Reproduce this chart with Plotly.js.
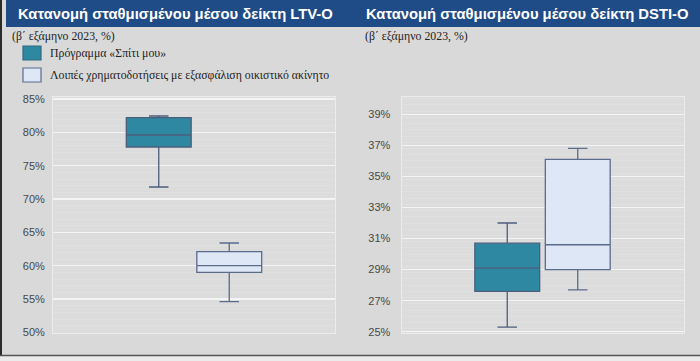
<!DOCTYPE html>
<html>
<head>
<meta charset="utf-8">
<script src="https://cdn.plot.ly/plotly-3.0.1.min.js"></script>
<style>html,body{margin:0;padding:0;background:#d9d9d9;}#chart{width:700px;height:361px;}</style>
</head>
<body>
<div id="chart"></div>
<script>
// ---- Data ----
const panelTitles = ['Κατανομή σταθμισμένου μέσου δείκτη LTV-O', 'Κατανομή σταθμισμένου μέσου δείκτη DSTI-O'];
const panelSubtitle = '(β΄ εξάμηνο 2023, %)';
const seriesNames = ['Πρόγραμμα «Σπίτι μου»', 'Λοιπές χρηματοδοτήσεις με εξασφάλιση οικιστικό ακίνητο'];
const seriesPositions = [1, 2];

// LTV-O distribution (%)
const ltvMin    = [71.8, 54.6];
const ltvQ1     = [77.8, 59.0];
const ltvMedian = [79.6, 60.0];
const ltvQ3     = [82.2, 62.1];
const ltvMax    = [82.45, 63.4];

// DSTI-O distribution (%)
const dstiMin    = [25.3, 27.7];
const dstiQ1     = [27.6, 29.0];
const dstiMedian = [29.1, 30.6];
const dstiQ3     = [30.7, 36.1];
const dstiMax    = [32.0, 36.8];

const ltvTicks  = [50, 55, 60, 65, 70, 75, 80, 85];
const dstiTicks = [25, 27, 29, 31, 33, 35, 37, 39];
const ltvTickText  = ltvTicks.map(v => v + '%');
const dstiTickText = dstiTicks.map(v => v + '%');

// ---- Styling ----
const W = 700, H = 361;
const px = v => v / W;
const py = v => 1 - v / H;
const fills = ['#2e88a1', '#dde7f5'];
const edges = ['#4d5d7c', '#5b6b8c'];

const traces = [];
seriesNames.forEach((name, i) => {
  traces.push({
    type: 'box', name: name, x: [seriesPositions[i]],
    q1: [ltvQ1[i]], median: [ltvMedian[i]], q3: [ltvQ3[i]],
    lowerfence: [ltvMin[i]], upperfence: [ltvMax[i]],
    width: 0.92, whiskerwidth: 0.3,
    fillcolor: fills[i], line: {color: edges[i], width: 1.3},
    xaxis: 'x', yaxis: 'y', showlegend: false, hoverinfo: 'skip'
  });
  traces.push({
    type: 'box', name: name, x: [seriesPositions[i]],
    q1: [dstiQ1[i]], median: [dstiMedian[i]], q3: [dstiQ3[i]],
    lowerfence: [dstiMin[i]], upperfence: [dstiMax[i]],
    width: 0.92, whiskerwidth: 0.3,
    fillcolor: fills[i], line: {color: edges[i], width: 1.3},
    xaxis: 'x2', yaxis: 'y2', showlegend: false, hoverinfo: 'skip'
  });
});

const tickFont = {family: 'Liberation Sans, Arial, sans-serif', size: 11, color: '#484848'};
const yDomain = [py(333), py(97)];
const frame = {showline: true, mirror: true, linecolor: '#ececec', linewidth: 1};
const titleFont = {family: 'Liberation Sans, Arial, sans-serif', size: 14.8, color: '#ffffff'};
const serifFont = {family: 'Liberation Serif, Times New Roman, serif', size: 11.8, color: '#222222'};

const shapes = [
  // header bar
  {type: 'rect', xref: 'paper', yref: 'paper', x0: px(6), x1: 1, y0: py(27), y1: 1, fillcolor: '#1f4b86', line: {width: 0}, layer: 'below'},
  // left dark edge
  {type: 'rect', xref: 'paper', yref: 'paper', x0: 0, x1: px(2), y0: 0, y1: 1, fillcolor: '#2b2b2b', line: {width: 0}},
  // bottom border
  {type: 'rect', xref: 'paper', yref: 'paper', x0: 0, x1: 1, y0: 0, y1: py(356), fillcolor: '#ebebeb', line: {width: 0}},
  {type: 'line', xref: 'paper', yref: 'paper', x0: 0, x1: 1, y0: py(355.5), y1: py(355.5), line: {color: '#555555', width: 1.5}},
];
const annotations = [
  {text: '<b>' + panelTitles[0] + '</b>', x: px(15.5), y: py(14), xref: 'paper', yref: 'paper', xanchor: 'left', yanchor: 'middle', showarrow: false, font: titleFont},
  {text: '<b>' + panelTitles[1] + '</b>', x: px(364), y: py(14), xref: 'paper', yref: 'paper', xanchor: 'left', yanchor: 'middle', showarrow: false, font: titleFont},
  {text: panelSubtitle, x: px(10), y: py(36), xref: 'paper', yref: 'paper', xanchor: 'left', yanchor: 'middle', showarrow: false, font: serifFont},
  {text: panelSubtitle, x: px(363), y: py(36), xref: 'paper', yref: 'paper', xanchor: 'left', yanchor: 'middle', showarrow: false, font: serifFont},
];
// custom legend
const legTops = [46, 68];
seriesNames.forEach((name, i) => {
  shapes.push({type: 'rect', xref: 'paper', yref: 'paper', x0: px(23), x1: px(41), y0: py(legTops[i] + 14), y1: py(legTops[i]), fillcolor: fills[i], line: {color: i === 0 ? '#2f6a80' : '#5b6b8c', width: 1.2}});
  annotations.push({text: name, x: px(48), y: py(legTops[i] + 7), xref: 'paper', yref: 'paper', xanchor: 'left', yanchor: 'middle', showarrow: false, font: {family: 'Liberation Serif, Times New Roman, serif', size: 11.8, color: '#222222'}});
});

const layout = {
  width: W, height: H,
  margin: {l: 0, r: 0, t: 0, b: 0},
  paper_bgcolor: '#d9d9d9', plot_bgcolor: '#dcdcdc',
  showlegend: false, boxmode: 'overlay',
  xaxis: Object.assign({domain: [px(53), px(335)], range: [-0.5, 3.5], showticklabels: false, showgrid: false, zeroline: false, fixedrange: true}, frame),
  yaxis: Object.assign({domain: yDomain, range: [49.9, 85.3], tickmode: 'array', tickvals: ltvTicks, ticktext: ltvTickText, tickfont: tickFont, showgrid: true, gridcolor: '#f4f4f4', gridwidth: 1.3, zeroline: false, ticks: '', ticklabelstandoff: 5,
    minor: {dtick: 1, showgrid: true, gridcolor: '#e0e0e0', gridwidth: 1}}, frame),
  xaxis2: Object.assign({domain: [px(401.5), px(683.5)], range: [-0.5, 3.5], showticklabels: false, showgrid: false, zeroline: false, fixedrange: true, anchor: 'y2'}, frame),
  yaxis2: Object.assign({domain: yDomain, range: [24.92, 40.11], tickmode: 'array', tickvals: dstiTicks, ticktext: dstiTickText, tickfont: tickFont, showgrid: true, gridcolor: '#f4f4f4', gridwidth: 1.3, zeroline: false, ticks: '', ticklabelstandoff: 8, anchor: 'x2',
    minor: {dtick: 0.4, showgrid: true, gridcolor: '#e0e0e0', gridwidth: 1}}, frame),
  shapes: shapes,
  annotations: annotations
};

Plotly.newPlot('chart', traces, layout, {staticPlot: true, displayModeBar: false});
</script>
</body>
</html>
